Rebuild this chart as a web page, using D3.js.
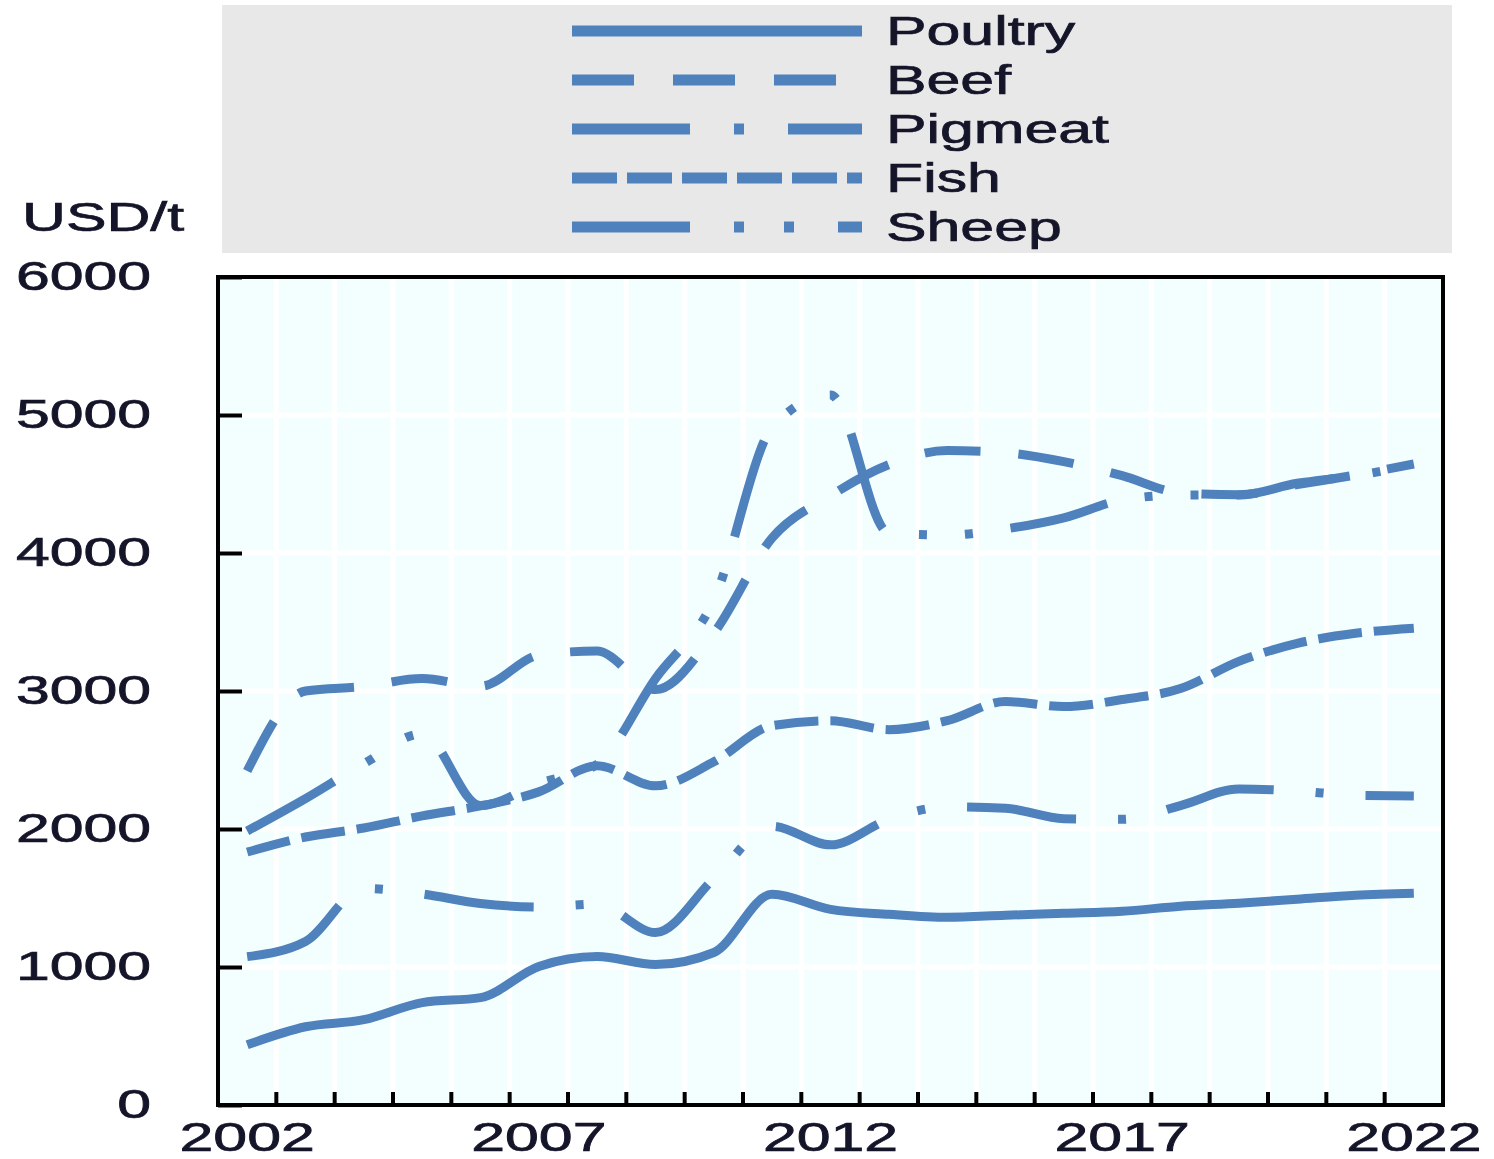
<!DOCTYPE html>
<html>
<head>
<meta charset="utf-8">
<script src="https://cdn.jsdelivr.net/npm/d3@7"></script>
<style>
  body { margin: 0; background: #fff; }
  svg { display: block; }
  text { font-family: "Liberation Sans", Arial, sans-serif; fill: #15152a; stroke: #15152a; stroke-width: 0.7px; }
</style>
</head>
<body>
<div id="chart"></div>
<script>
var width = 1494;
var height = 1159;

// data, USD/t
var years = [2002, 2003, 2004, 2005, 2006, 2007, 2008, 2009, 2010, 2011, 2012,
  2013, 2014, 2015, 2016, 2017, 2018, 2019, 2020, 2021, 2022];
var poultry = [436, 567, 618, 742, 778, 1004, 1076, 1018, 1105, 1527, 1418,
  1382, 1360, 1375, 1389, 1404, 1440, 1462, 1491, 1520, 1535];
var beef = [2420, 3000, 3033, 3090, 3035, 3260, 3290, 3010, 3420, 4110, 4415,
  4640, 4742, 4727, 4662, 4560, 4436, 4422, 4495, 4565, 4645];
var pigmeat = [1075, 1185, 1570, 1530, 1460, 1435, 1455, 1250, 1640, 2020, 1885,
  2070, 2160, 2150, 2075, 2070, 2170, 2290, 2275, 2245, 2240];
var fish = [1833, 1942, 2007, 2095, 2167, 2269, 2458, 2313, 2487, 2749, 2785,
  2720, 2785, 2924, 2887, 2938, 3018, 3215, 3345, 3418, 3455];
var sheep = [1985, 2220, 2473, 2690, 2170, 2330, 2470, 3090, 3660, 4910, 5145,
  4145, 4130, 4175, 4255, 4385, 4420, 4420, 4505, 4560, 4640];

var seriesNames = ["Poultry", "Beef", "Pigmeat", "Fish", "Sheep"];
var yTicks = [0, 1000, 2000, 3000, 4000, 5000, 6000];
var xLabels = [2002, 2007, 2012, 2017, 2022];

var blue = "#4f81bd";
// dash patterns: chart line / legend sample
var dashChart = {"Poultry": null, "Beef": "56,38", "Pigmeat": "110,42,8,42",
  "Fish": "44,12", "Sheep": "100,38,8,38,8,38"};
var dashLegend = {"Poultry": null, "Beef": "62,39", "Pigmeat": "118,44,10,44",
  "Fish": "45,10", "Sheep": "118,44,10,40,10,44"};

var series = [
  {name: "Poultry", values: poultry},
  {name: "Beef", values: beef},
  {name: "Pigmeat", values: pigmeat},
  {name: "Fish", values: fish},
  {name: "Sheep", values: sheep}
];

var plot = {left: 218, right: 1443, top: 277, bottom: 1105};

var svg = d3.select("#chart").append("svg")
  .attr("width", width)
  .attr("height", height);

var x = d3.scaleBand().domain(years).range([plot.left, plot.right]).padding(0);
var y = d3.scaleLinear().domain([0, 6000]).range([plot.bottom, plot.top]);
var bw = x.bandwidth();

// legend box
svg.append("rect")
  .attr("x", 222).attr("y", 5)
  .attr("width", 1230).attr("height", 248)
  .attr("fill", "#e8e8e8");

var legend = svg.selectAll(".legend")
  .data(seriesNames)
  .enter().append("g")
    .attr("class", "legend")
    .attr("transform", function(d, i) { return "translate(0," + (31 + i * 49) + ")"; });

legend.append("line")
  .attr("x1", 572).attr("x2", 862)
  .attr("y1", 0).attr("y2", 0)
  .attr("stroke", blue)
  .attr("stroke-width", 11)
  .attr("stroke-dasharray", function(d) { return dashLegend[d]; });

legend.append("text")
  .attr("transform", "translate(886,14) scale(1.52,1)")
  .style("font-size", "40px")
  .text(function(d) { return d; });

// plot background
svg.append("rect")
  .attr("x", plot.left).attr("y", plot.top)
  .attr("width", plot.right - plot.left)
  .attr("height", plot.bottom - plot.top)
  .attr("fill", "#f3ffff");

// white grid lines
svg.selectAll(".vgrid")
  .data(years.slice(1))
  .enter().append("line")
    .attr("class", "vgrid")
    .attr("x1", function(d) { return x(d); })
    .attr("x2", function(d) { return x(d); })
    .attr("y1", plot.top).attr("y2", plot.bottom)
    .attr("stroke", "#fff").attr("stroke-width", 5);

svg.selectAll(".hgrid")
  .data(yTicks.slice(1, -1))
  .enter().append("line")
    .attr("class", "hgrid")
    .attr("x1", plot.left).attr("x2", plot.right)
    .attr("y1", function(d) { return y(d); })
    .attr("y2", function(d) { return y(d); })
    .attr("stroke", "#fff").attr("stroke-width", 5);

// the lines
var line = d3.line()
  .x(function(d, i) { return x(years[i]) + bw / 2; })
  .y(function(d) { return y(d); })
  .curve(d3.curveMonotoneX);

svg.selectAll(".series")
  .data(series)
  .enter().append("path")
    .attr("class", "series")
    .attr("d", function(d) { return line(d.values); })
    .attr("fill", "none")
    .attr("stroke", blue)
    .attr("stroke-width", 9)
    .attr("stroke-dasharray", function(d) { return dashChart[d.name]; });

// y axis: ticks inside the frame
var yAxis = svg.append("g")
  .attr("transform", "translate(" + plot.left + ",0)")
  .call(d3.axisLeft(y).tickValues(yTicks).tickSizeInner(-24).tickSizeOuter(0).tickPadding(44)
    .tickFormat(d3.format("d")));
yAxis.select(".domain").remove();
yAxis.selectAll(".tick line").attr("stroke", "#000").attr("stroke-width", 4);
yAxis.selectAll(".tick text")
  .attr("transform", "scale(1.52,1)")
  .attr("fill", "#15152a")
  .style("font-size", "40px")
  .style("font-family", "'Liberation Sans', Arial, sans-serif");

// x axis ticks on the band edges, inside the frame
svg.selectAll(".xtick")
  .data(years.slice(1))
  .enter().append("line")
    .attr("class", "xtick")
    .attr("x1", function(d) { return x(d); })
    .attr("x2", function(d) { return x(d); })
    .attr("y1", plot.bottom).attr("y2", plot.bottom - 13)
    .attr("stroke", "#000").attr("stroke-width", 4);

svg.selectAll(".xlabel")
  .data(xLabels)
  .enter().append("text")
    .attr("class", "xlabel")
    .attr("transform", function(d) { return "translate(" + (x(d) + bw / 2) + ",1151) scale(1.52,1)"; })
    .attr("text-anchor", "middle")
    .style("font-size", "40px")
    .text(function(d) { return d; });

// frame
svg.append("rect")
  .attr("x", plot.left).attr("y", plot.top)
  .attr("width", plot.right - plot.left)
  .attr("height", plot.bottom - plot.top)
  .attr("fill", "none")
  .attr("stroke", "#000")
  .attr("stroke-width", 4);

// unit label
svg.append("text")
  .attr("transform", "translate(22,231) scale(1.52,1)")
  .style("font-size", "40px")
  .text("USD/t");
</script>
</body>
</html>
